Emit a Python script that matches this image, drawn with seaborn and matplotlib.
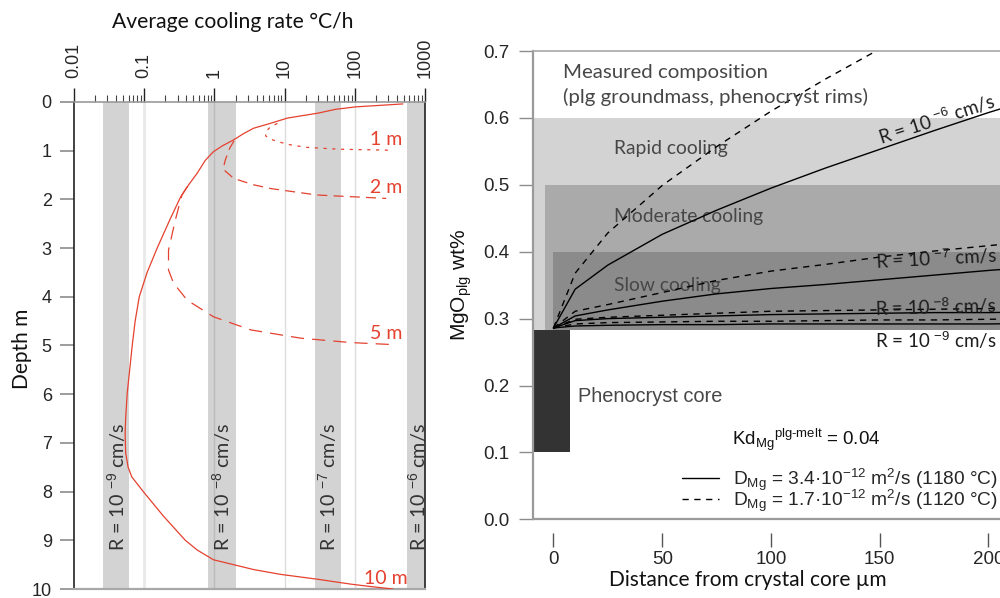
import numpy as np
import matplotlib
matplotlib.use("Agg")
import matplotlib.pyplot as plt
from matplotlib.lines import Line2D
from matplotlib.ticker import FixedLocator, LogLocator, NullFormatter
import seaborn as sns

# ---------------------------------------------------------------- data
# Left panel: average cooling rate (degC/h) against depth (m) for sheets of
# different thickness.
depth_10m = [0.04, 0.10, 0.15, 0.23, 0.33, 0.45, 0.54, 0.65, 0.78, 0.90,
             1.02, 1.20, 1.46, 1.70, 1.95, 2.40, 3.00, 3.50, 4.00, 4.50,
             5.00, 5.50, 6.00, 6.50, 6.80, 7.20, 7.50, 7.70, 8.00, 8.50,
             9.00, 9.20, 9.40, 9.60, 9.70, 9.80, 9.90, 9.95, 10.0]
rate_10m = [485, 103, 53.5, 29.6, 11.0, 5.9, 3.6, 2.6, 1.87, 1.30,
            0.97, 0.74, 0.57, 0.43, 0.33, 0.235, 0.153, 0.110, 0.085, 0.0743,
            0.0675, 0.0621, 0.0571, 0.0544, 0.0535, 0.0544, 0.059, 0.0667,
            0.097, 0.187, 0.385, 0.57, 0.97, 3.6, 8.8, 29.6, 87.7, 169, 349]

depth_5m = [1.74, 1.91, 2.01, 2.42, 3.04, 3.45, 3.72, 4.07, 4.41, 4.68, 4.85,
            4.94, 4.98]
rate_5m = [0.41, 0.345, 0.33, 0.278, 0.222, 0.222, 0.262, 0.41, 0.97, 3.3,
           17, 88, 330]

depth_2m = [0.80, 0.95, 1.19, 1.38, 1.57, 1.70, 1.78, 1.91, 1.98]
rate_2m = [1.9, 1.65, 1.43, 1.33, 1.89, 3.6, 6.5, 29, 280]

depth_1m = [0.44, 0.52, 0.62, 0.70, 0.78, 0.87, 0.93, 0.97, 0.99]
rate_1m = [7.9, 6.2, 5.3, 5.4, 6.8, 11, 20, 60, 330]

profile_names = ["10 m", "5 m", "2 m", "1 m"]

# Cooling-rate ranges that correspond to each growth rate R
band_lo = [0.026, 0.82, 27, 550]
band_hi = [0.061, 2.0, 63, 1130]
band_names = ["R = 10 $^{-9}$ cm/s", "R = 10 $^{-8}$ cm/s",
              "R = 10 $^{-7}$ cm/s", "R = 10 $^{-6}$ cm/s"]

rate_ticks = [0.01, 0.1, 1, 10, 100, 1000]
rate_tick_labels = ["0.01", "0.1", "1", "10", "100", "1000"]
depth_ticks = list(range(0, 11))

# Right panel: MgO in plagioclase along a profile from the crystal core.
distance = [0, 10, 25, 50, 75, 100, 125, 150, 175, 200, 225]
mgo_r6_hot = [0.286, 0.344, 0.380, 0.426, 0.462, 0.495, 0.525, 0.553, 0.581, 0.608, 0.633]
mgo_r6_cool = [0.286, 0.368, 0.428, 0.499, 0.557, 0.610, 0.658, 0.703]
mgo_r7_hot = [0.286, 0.304, 0.313, 0.326, 0.337, 0.345, 0.351, 0.358, 0.365, 0.372, 0.378]
mgo_r7_cool = [0.286, 0.311, 0.321, 0.339, 0.357, 0.371, 0.381, 0.392, 0.401, 0.409, 0.417]
mgo_r8_hot = [0.286, 0.297, 0.300, 0.302, 0.304, 0.306, 0.307, 0.308, 0.309, 0.309, 0.310]
mgo_r8_cool = [0.286, 0.299, 0.302, 0.305, 0.308, 0.311, 0.312, 0.313, 0.314, 0.315, 0.316]
mgo_r9_hot = [0.286, 0.289, 0.290, 0.291, 0.291, 0.292, 0.292, 0.292, 0.292, 0.292, 0.293]
mgo_r9_cool = [0.286, 0.292, 0.294, 0.295, 0.296, 0.296, 0.297, 0.298, 0.298, 0.299, 0.300]

core_mgo = (0.10, 0.2834)
rim_floor = 0.2834
zone_tops = [0.6, 0.5, 0.4]
zone_names = ["Rapid cooling", "Moderate cooling", "Slow cooling"]
r_names = ["R = 10 $^{-6}$ cm/s", "R = 10 $^{-7}$ cm/s",
           "R = 10 $^{-8}$ cm/s", "R = 10 $^{-9}$ cm/s"]
dist_ticks = [0, 50, 100, 150, 200]
mgo_ticks = [0.0, 0.1, 0.2, 0.3, 0.4, 0.5, 0.6, 0.7]

# ---------------------------------------------------------------- style
sns.set_theme(style="white")
plt.rcParams["font.family"] = ["Liberation Sans", "DejaVu Sans"]
plt.rcParams["mathtext.fontset"] = "custom"
plt.rcParams["mathtext.rm"] = "Liberation Sans"
plt.rcParams["mathtext.it"] = "Liberation Sans:italic"
plt.rcParams["mathtext.bf"] = "Liberation Sans:bold"

HUMANIST = ["Lato", "DejaVu Sans"]
RED = "#e5412f"
BAND = "#d3d3d3"
TICK_FS = 13
AXIS_FS = 15
NOTE_FS = 13.5

fig = plt.figure(figsize=(10, 5.98), dpi=100)
axL = fig.add_axes([0.074, 0.01505, 0.351, 0.8144])
# right panel runs past the right edge of the figure
R_LEFT_PX, R_WIDTH_PX = 533.0, 520.75
axR = fig.add_axes([R_LEFT_PX / 1000, 0.1316, R_WIDTH_PX / 1000, 0.7831])

# ---------------------------------------------------------------- left panel
axL.set_xscale("log")

for lo, hi in zip(band_lo, band_hi):
    axL.axvspan(lo, hi, color=BAND, lw=0, zorder=0)
for r, c, w in zip([0.1, 1, 10, 100],
                   ["#e9e9e9", "#bcbcbc", "#dcdcdc", "#dcdcdc"],
                   [2.0, 1.0, 1.0, 1.0]):
    axL.axvline(r, color=c, lw=w, zorder=0.5)

profiles = [(depth_10m, rate_10m, "-"),
            (depth_5m, rate_5m, (0, (10.5, 6.5))),
            (depth_2m, rate_2m, (0, (8, 5))),
            (depth_1m, rate_1m, (0, (2.5, 4.5)))]
for (d, r, ls), name in zip(profiles, profile_names):
    sns.lineplot(x=r, y=d, ax=axL, sort=False, estimator=None, color=RED,
                 lw=0.9, linestyle=ls, zorder=3)
    axL.text(280, d[-1] - 0.22, name, color=RED, fontsize=14,
             family=HUMANIST, ha="center", va="center")

for lo, hi, name in zip(band_lo, band_hi, band_names):
    axL.text(np.sqrt(lo * hi), 7.9, name, rotation=90, ha="center",
             va="center", fontsize=14.2, family=HUMANIST,
             color="#333333", zorder=2)

axL.xaxis.set_major_locator(FixedLocator(rate_ticks))
axL.xaxis.set_minor_locator(LogLocator(base=10, subs=np.arange(2, 10)))
axL.xaxis.set_minor_formatter(NullFormatter())
axL.set_xticklabels(rate_tick_labels, rotation=90)
axL.set_yticks(depth_ticks)
axL.set_xlim(0.01, 1000)
axL.set_ylim(10, 0)
axL.tick_params(axis="x", which="both", top=True, labeltop=True,
                bottom=False, labelbottom=False, direction="out")
axL.tick_params(axis="x", which="major", length=10, width=1.0,
                color="#222222", pad=7, labelsize=TICK_FS)
axL.tick_params(axis="x", which="minor", length=5, width=0.8, color="#444444")
axL.tick_params(axis="y", left=True, direction="out", length=10, width=1.2,
                color="#8c8c8c", pad=6, labelsize=TICK_FS)
for side, col, lw in [("left", "#222222", 1.2), ("right", "#222222", 1.2),
                      ("top", "#9a9a9a", 1.2), ("bottom", "#a8a8a8", 1.6)]:
    axL.spines[side].set_color(col)
    axL.spines[side].set_linewidth(lw)
axL.set_xlabel("")
axL.set_ylabel("")
fig.text(0.233, 1 - 22 / 598, "Average cooling rate °C/h", ha="center",
         va="center", fontsize=15.2, family=HUMANIST, color="#111111")
fig.text(0.022, 1 - 349 / 598, "Depth m", ha="center", va="center",
         rotation=90, fontsize=AXIS_FS, family=HUMANIST, color="#111111")

# ---------------------------------------------------------------- right panel
zone_colors = ["#d3d3d3", "#a9aaa9", "#8b8b8b"]
zone_left = [-10, -4.1, 0]
for top, col, left in zip(zone_tops, zone_colors, zone_left):
    axR.fill_between([left, 240], rim_floor, top, color=col, lw=0, zorder=0)
axR.fill_between([-10, 7.6], core_mgo[0], core_mgo[1], color="#333333",
                 lw=0, zorder=0.5)

series = [(mgo_r6_hot, "-"), (mgo_r6_cool, (0, (4.5, 4))),
          (mgo_r7_hot, "-"), (mgo_r7_cool, (0, (4.5, 4))),
          (mgo_r8_hot, "-"), (mgo_r8_cool, (0, (4.5, 4))),
          (mgo_r9_hot, "-"), (mgo_r9_cool, (0, (4.5, 4)))]
for vals, ls in series:
    sns.lineplot(x=distance[:len(vals)], y=vals, ax=axR, color="black",
                 lw=1.0, linestyle=ls, estimator=None, sort=False, zorder=3)

axR.set_xticks(dist_ticks)
axR.set_yticks(mgo_ticks)
axR.set_yticklabels([f"{v:.1f}" for v in mgo_ticks])
axR.set_xlim(-9.4, 230)
axR.set_ylim(0, 0.7)

TXT = "#474747"
axR.text(4.4, 0.660, "Measured composition", fontsize=14.7,
         family=HUMANIST, color=TXT, va="baseline")
axR.text(4.4, 0.6217, "(plg groundmass, phenocryst rims)",
         fontsize=14.7, family=HUMANIST, color=TXT, va="baseline")
for name, yb in zip(zone_names, [0.5454, 0.444, 0.3407]):
    axR.text(27.9, yb, name, fontsize=13.9, family=HUMANIST, color=TXT,
             va="baseline", zorder=2)
axR.text(11.3, 0.176, "Phenocryst core", fontsize=14.4, color=TXT,
         va="baseline")

# growth-rate labels along their curves
x_lab = 203.8
r_curves = [mgo_r6_hot, mgo_r7_hot, mgo_r8_hot]
r_offsets = [0.004, 0.010, 0.000]
r_rot = [18, 3, 1.5]
for name, vals, off, rot in zip(r_names[:3], r_curves, r_offsets, r_rot):
    yv = np.interp(x_lab, distance, vals) + off
    axR.text(x_lab, yv, name, rotation=rot, rotation_mode="anchor",
             ha="right", va="baseline", fontsize=NOTE_FS, family=HUMANIST,
             color="#1c1c1c", zorder=4)
axR.text(x_lab, 0.268, r_names[3], ha="right", va="center",
         fontsize=NOTE_FS, family=HUMANIST, color="#1c1c1c")

axR.text(82.3, 0.119, "Kd$_{\\rm Mg}{}^{\\rm plg\u2010melt}$ = 0.04",
         fontsize=13.5, va="center", color="#111111")
handles = [Line2D([], [], color="black", lw=1.0),
           Line2D([], [], color="black", lw=1.0, linestyle=(0, (4.5, 4)))]
labels = ["D$_{\\rm Mg}$ = 3.4·10$^{-12}$ m$^{2}$/s (1180 °C)",
          "D$_{\\rm Mg}$ = 1.7·10$^{-12}$ m$^{2}$/s (1120 °C)"]
axR.legend(handles, labels, loc="upper left",
           bbox_to_anchor=((681.6 - R_LEFT_PX) / R_WIDTH_PX, 0.112),
           frameon=False, fontsize=13.8, handlelength=1.95,
           handletextpad=0.75, labelspacing=-0.3, borderpad=0,
           borderaxespad=0)

axR.tick_params(axis="x", bottom=True, direction="out", length=10,
                width=1.0, color="#555555", pad=3, labelsize=13.5)
axR.tick_params(axis="y", left=True, direction="out", length=10, width=1.0,
                color="#8c8c8c", pad=7, labelsize=13.5)
axR.spines["bottom"].set_position(("outward", 10))
axR.spines["bottom"].set_visible(False)
axR.spines["right"].set_visible(False)
axR.spines["left"].set_color("#9a9a9a")
axR.spines["left"].set_linewidth(1.6)
axR.spines["top"].set_color("#a8a8a8")
axR.spines["top"].set_linewidth(1.2)
axR.axhline(0, color="#9a9a9a", lw=1.6, zorder=1, clip_on=False)
axR.set_xlabel("Distance from crystal core µm", fontsize=AXIS_FS,
               family=HUMANIST, color="#111111")
axR.xaxis.set_label_coords((748 - R_LEFT_PX) / R_WIDTH_PX,
                           -(580 - 519.3) / 468.3)
axR.set_ylabel("MgO$_{\\rm plg}$ wt%", fontsize=AXIS_FS, color="#111111")
axR.yaxis.set_label_coords(-(R_LEFT_PX - 462) / R_WIDTH_PX, 0.5)
axR.xaxis.label.set_va("center")
axR.yaxis.label.set_va("center")

fig.savefig("out.png", dpi=100)
